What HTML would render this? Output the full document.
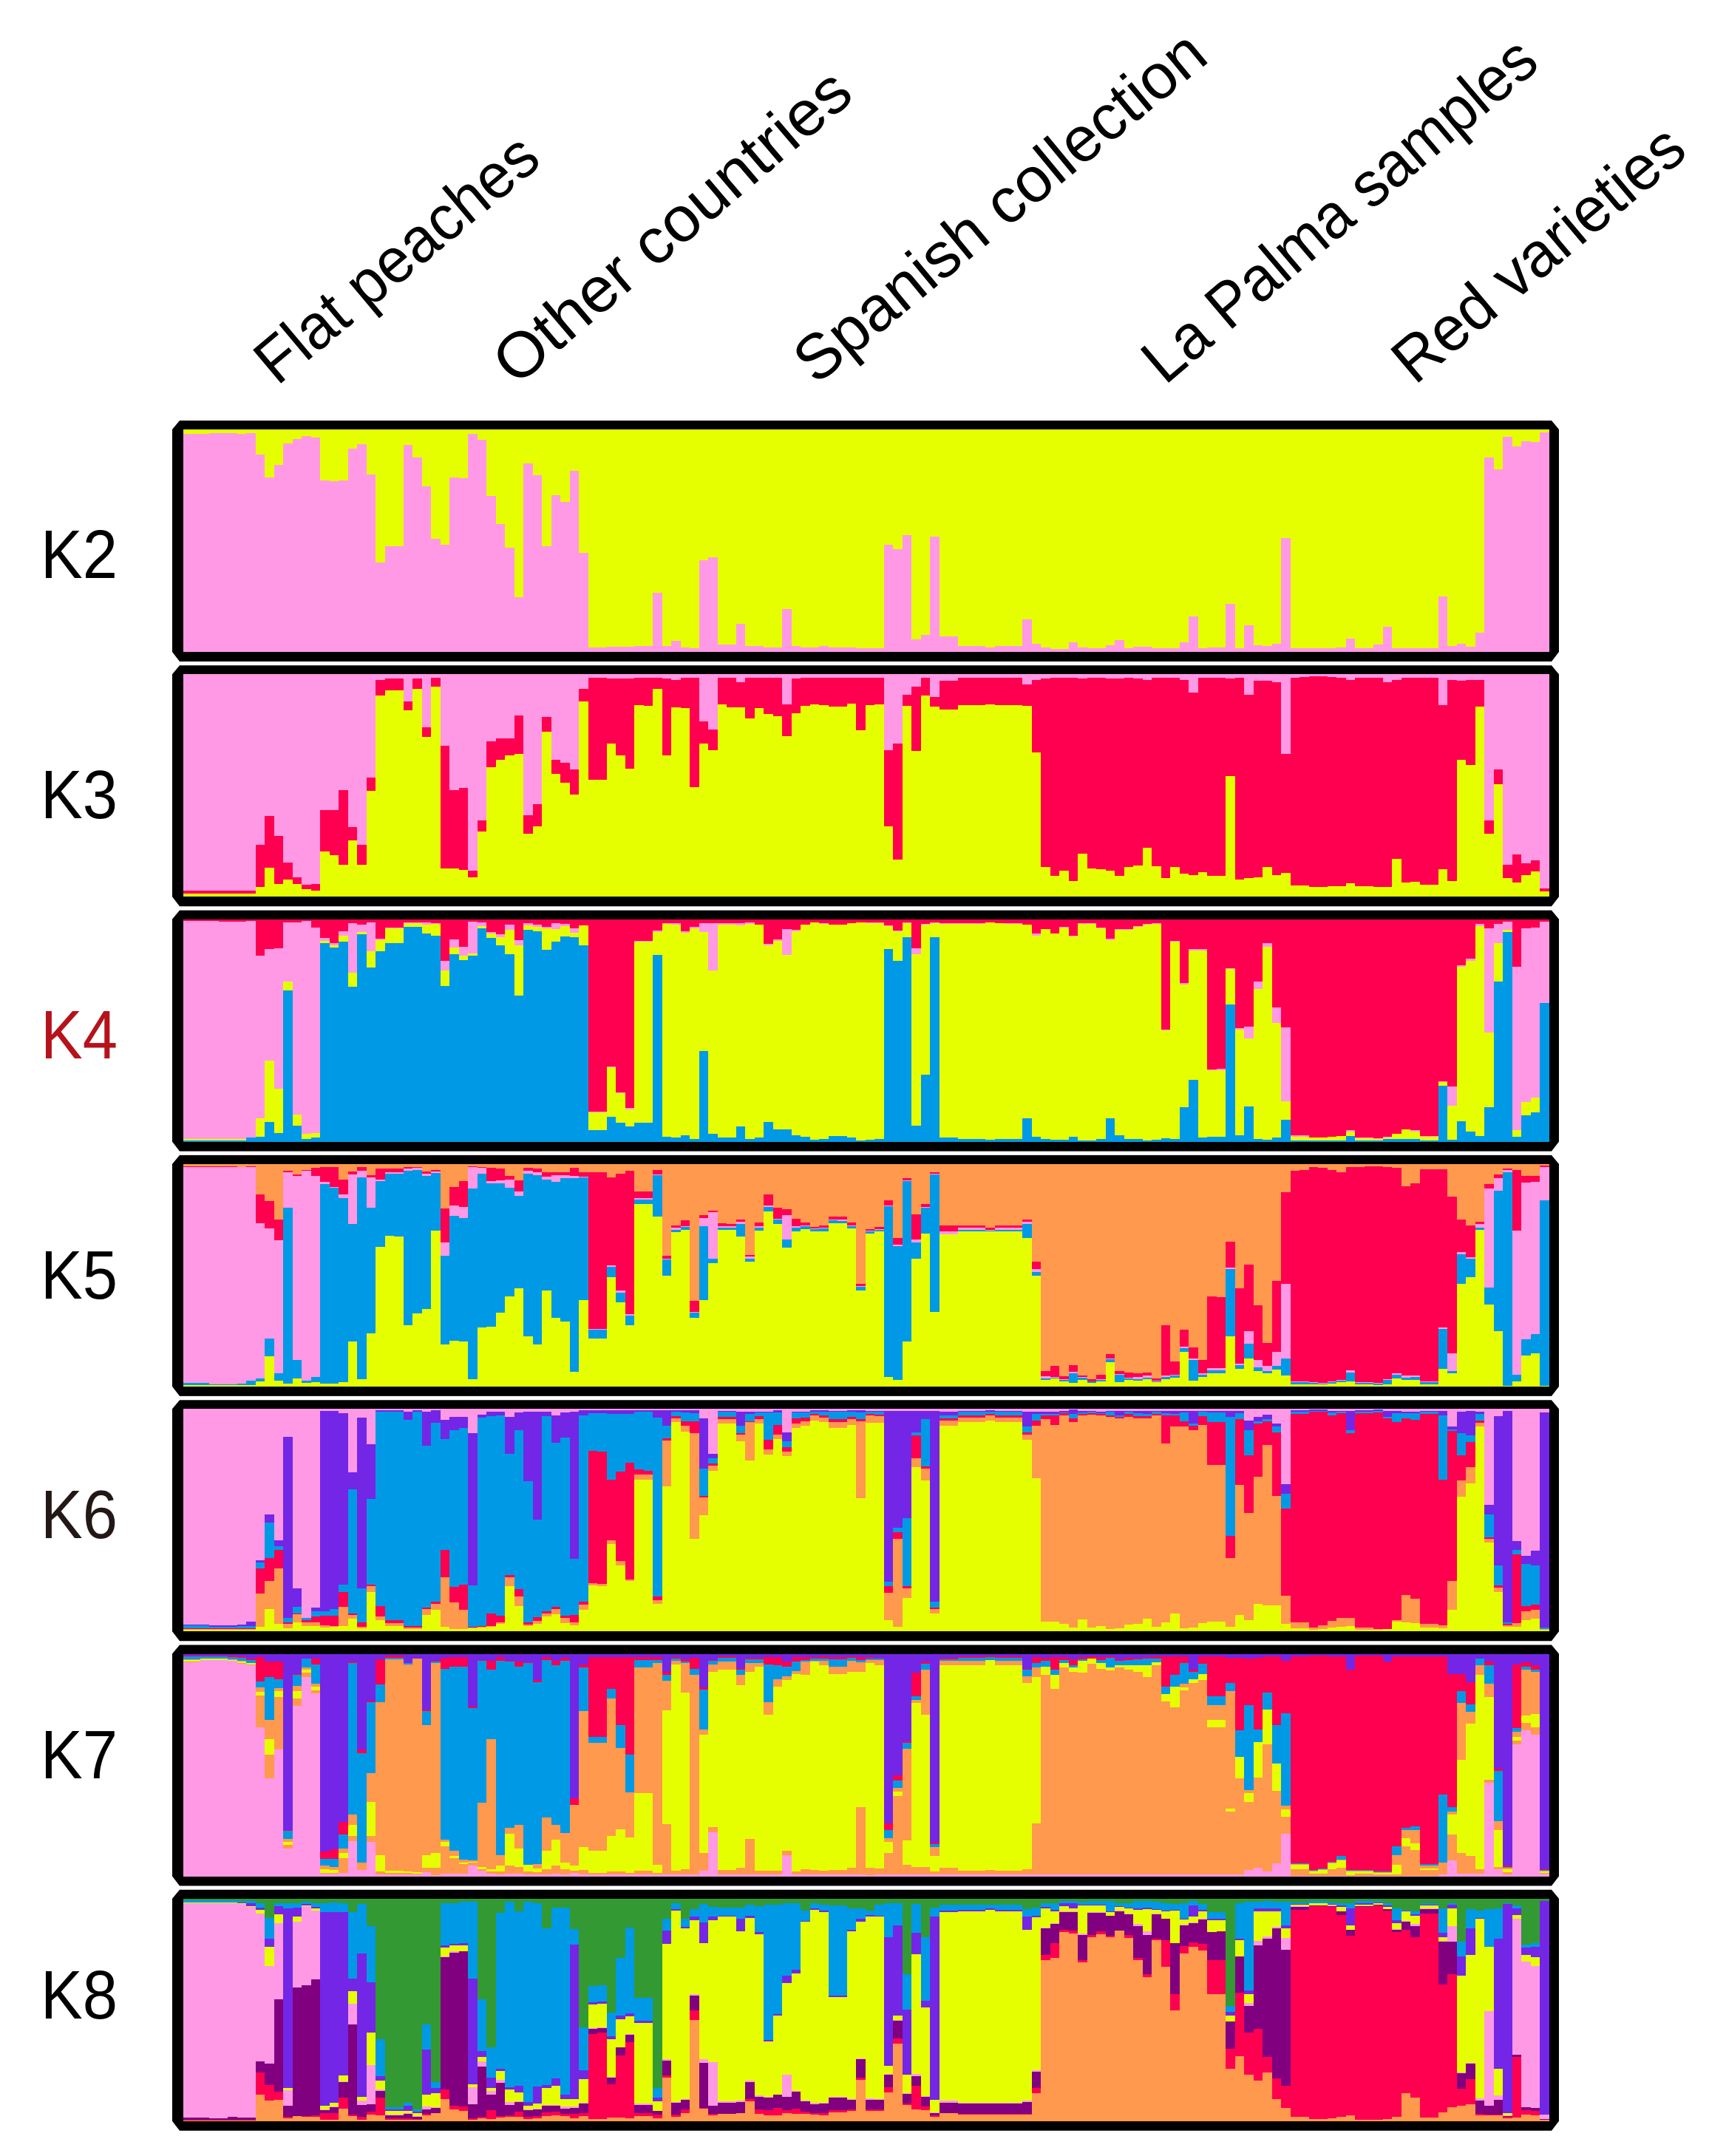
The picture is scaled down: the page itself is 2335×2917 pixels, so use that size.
<!DOCTYPE html>
<html lang="en">
<head>
<meta charset="utf-8">
<title>Structure plot K2 to K8</title>
<style>
html,body{margin:0;padding:0;background:#fff}
svg{display:block}
text{font-family:"Liberation Sans",sans-serif;fill:#000}
</style>
</head>
<body>
<svg id="chart" xmlns="http://www.w3.org/2000/svg" width="2335" height="2917" viewBox="0 0 2335 2917">
<rect width="2335" height="2917" fill="#fff"/>
<defs><clipPath id="plot-clip"><rect x="248" y="0" width="1848" height="2917"/></clipPath></defs>
<g id="frames"></g>
<g id="bars" clip-path="url(#plot-clip)" shape-rendering="crispEdges"></g>
<g font-size="86">
<text transform="translate(375 523) rotate(-40)" textLength="470" lengthAdjust="spacingAndGlyphs">Flat peaches</text>
<text transform="translate(698 524) rotate(-40.4)" textLength="604" lengthAdjust="spacingAndGlyphs">Other countries</text>
<text transform="translate(1104 522) rotate(-39.5)" textLength="692" lengthAdjust="spacingAndGlyphs">Spanish collection</text>
<text transform="translate(1576 522) rotate(-40.3)" textLength="668" lengthAdjust="spacingAndGlyphs">La Palma samples</text>
<text transform="translate(1914 522) rotate(-40.1)" textLength="486" lengthAdjust="spacingAndGlyphs">Red varieties</text>
</g>
<g font-size="93">
<text x="55" y="782" textLength="104" lengthAdjust="spacingAndGlyphs">K2</text>
<text x="55" y="1107" textLength="104" lengthAdjust="spacingAndGlyphs">K3</text>
<text x="55" y="1432" textLength="104" lengthAdjust="spacingAndGlyphs" style="fill:#b5121b">K4</text>
<text x="55" y="1757" textLength="104" lengthAdjust="spacingAndGlyphs">K5</text>
<text x="55" y="2081" textLength="104" lengthAdjust="spacingAndGlyphs" style="fill:#231815">K6</text>
<text x="55" y="2406" textLength="104" lengthAdjust="spacingAndGlyphs">K7</text>
<text x="55" y="2731" textLength="104" lengthAdjust="spacingAndGlyphs">K8</text>
</g>
</svg>
<script>
// Cumulative ancestry (%) at the top of each cluster in the stack, for 148 individuals.
// The last cluster of every panel always fills up to 100.
const k2Pink=[98,98,98,98.3,98.3,98.3,98,98.3,88.7,78.4,84,93.7,95.7,97,96.3,77,76.7,77,91.4,93.4,79.7,40.2,47.5,47.5,93,87.4,74.4,50.8,48.2,78.4,78,98,95.3,70,57.5,46.8,24.6,84.7,79.4,47.5,70.4,67.4,81.4,44.5,2,2,2.3,2.3,2.3,2.7,2.7,26.6,2.7,5,2,1.7,41.2,42.5,3.3,3.3,12.6,2.7,2.7,2,2,19.3,2.7,2,2,2.7,2,2,2,1.7,
1.7,1.7,48.2,46.2,52.5,5.6,7.6,51.8,7,7,2.7,2.7,2.7,2,2.7,2.7,2.7,14.6,3.7,2,1.3,1.3,4.3,2,1.7,1.7,3,5.3,1.7,2.3,2.3,1.7,1.7,1.7,4.3,16,1.7,2,2,21.6,1.7,12,3,2.7,3.7,51.2,1.7,1.7,1.7,1.7,1.7,2,6,1.7,1.7,3.3,11.3,1.7,1.7,1.7,1.7,1.7,24.9,2.7,3.7,2.3,8.6,87.4,82,96.7,92.4,94.7,94.4,98.7];

const k3Yellow=[1.5,1.5,1.5,1.5,1.5,1.5,1.5,1.5,4.4,12.9,5.7,7.7,5.7,3.4,2.7,20.3,18.6,14.3,25.2,14.3,47.5,90.6,92.9,92.9,83.7,93.6,71.8,94.3,12.6,12.6,11.9,8.7,29.5,58.2,61.7,63.7,64.1,28.2,31.5,74.3,55.2,51.2,45.8,87.9,52.5,52.5,69,63.7,57.6,86,85.7,93.3,63.7,85,84.7,49.2,69,65.8,86.4,85,85,80.3,84.7,82,81,72.3,82.4,85.7,86.4,86,85.4,85.4,86.7,74.8,
86,86.4,31.5,16.6,85.7,65.4,90.6,85.4,84,84,86,86,86,86.4,86,86,86,85.7,64.8,13.3,9.4,11.6,7,19.3,12.6,12.3,11.6,9.4,13.3,13.9,22,13.6,8.4,13.3,10.4,9.9,10.9,9.4,9.4,54.2,7.7,8.4,8.7,13.3,9.6,10.6,5,5,4.4,4.4,4.7,4.7,6,4.7,4.7,4.4,4.4,17,6.4,6.7,5.4,5.4,12.3,7,61.4,59.1,85.4,28.2,50.5,8.4,6.4,9.9,11.3,2.4];
const k3Red=[2.6,2.6,2.6,2.6,2.6,2.6,2.6,2.6,23.4,36.2,27.2,15.3,8.7,5.4,5.7,39.1,38.9,47.8,31.2,23.3,53.5,97.6,98,98,87.9,98,76.3,98.6,68,47.8,48.8,11.6,34.2,69.8,71.3,71.3,81.4,36.6,41.6,80.7,61.4,60.1,57.2,93.6,98.3,98.3,98,98,98,98.6,98.6,98.6,98,97.6,98.6,98.3,78.7,75.3,98.3,98.3,96.3,98.3,98.3,98.3,98.3,86.4,98,98.6,98.6,98.3,98.6,98.6,98.6,98.6,
98.6,98.6,65.8,68.8,90.9,94.6,98.6,89.9,97,97,98.3,98.3,98.3,98.6,98.3,98.3,98.3,95.6,97.3,98,98.6,98.6,98.6,98,98.6,98.6,98,98,98.6,98,97.3,98.6,98.6,98.6,97.6,91.9,98.6,98.3,98.3,98,98.6,90.9,97,97,96.3,64.1,98.6,98.9,99,99,98.9,98.6,97.3,98.6,98.6,98.6,96.6,97.6,98.6,98.6,98.6,98.6,86,97.3,97,97.6,97.3,34.2,57.4,14.3,19,14.9,16.3,3.7];

const k4Blue=[.5,.5,.5,.5,.5,.5,.5,1.7,2.3,8.9,3.7,68,7.2,1.3,2,89.3,87.2,90,69.5,93.3,78.4,85.7,89.3,89.3,96.7,96.7,93.6,92.6,70,84.4,81.7,83.7,96,91.6,88.4,84.4,65.8,95.3,94.6,86.4,90,92.3,92,88.4,5.3,5.3,11.2,8.5,7,8.5,8.5,84,2.3,1.7,3,1.3,40.8,3.6,2,2,7,1.3,2,8.9,5.5,5.5,3,2.3,1,1.3,2.6,2.6,2,.6,
1,1.3,86.6,81.4,92,7.2,30,92,2,2,1.3,1.3,1.3,1,1.3,1.3,1.3,10.5,2.3,1.3,1,1,2.3,.6,.6,1.3,10.5,3,1.3,1.3,.6,1,1.6,1.3,15.6,27.8,2,2.3,2.3,61.8,3,15.9,1.3,1,2,10,.6,.6,.6,.6,.6,.6,2.6,.6,.6,.6,1.3,1.3,1.3,1.3,.6,.6,25.1,1,9.2,4.5,2.6,15.6,72,94.3,2.3,11.9,13.2,62.2];
const k4Yellow=[1.3,1.3,1.3,1.3,1.3,1.3,1.3,2,10.5,36.4,23.9,71.9,12.2,3.4,4,90.3,88.2,92.6,76.1,94.3,85.7,90.6,95.9,95.9,98.3,98.3,97.7,98,76.8,87.2,83.7,84.7,97,93.6,92,95.3,88.4,97.3,96.7,96,95.7,97,94,97.3,13,13,33.4,21.7,14.5,89.9,89.9,94.3,98,97.6,93.9,96,94.3,77,97.7,97.7,97.3,98,97.6,88.2,90.3,84,94.6,97.7,98.6,98,97.6,97.6,98.3,98.7,
98.3,98.3,97,94.6,98.3,84.4,97.6,98.3,98,98,98,98,98,98.7,98.3,98,98,97.7,92.6,95.6,93.6,96.3,92.3,98,98,96,90.6,95.3,95.3,96.6,97.6,98,49.9,89.9,70.7,86,86,32,32,77.6,50.3,46.3,68.8,87.6,53.4,18.2,2.3,2.3,2,2,2.3,2.6,4.5,1.6,1.6,1.3,2,3.6,5.5,4.5,2.3,2.3,26.8,16.2,78.7,81.4,96.9,48.9,89.3,95.3,5.3,17.9,19.9,62.2];
const k4Pink=[99.3,99.3,99.3,99.3,99,99,99,99.3,83.7,86.6,87,98.7,98.7,99.3,96.3,91.6,89.2,94.6,98.3,97.7,98.7,91.3,96.3,96.3,98.7,98.7,98.7,98.3,81.1,91,87.6,99,98.7,94.3,93.3,97.7,90.6,98.3,97.7,96.7,98.3,98,96,97.3,13.5,13.5,33.8,22.2,15,90.3,90.3,95,98.3,98.3,94.6,96.7,98.3,98.3,98.3,98.3,98.3,98.7,97.7,89,91,95.6,95.3,97.7,98.7,98.3,97.6,97.6,98.3,98.7,
98.7,98.7,97.3,95,98.7,87,98,98.7,98.3,98.3,98.3,98.3,98.3,98.7,98.3,98.3,98.3,97.7,93.6,95.6,93.6,96.6,92.6,98.3,98.3,96.3,91.3,95.7,95.6,96.9,97.9,98.3,50.4,90.3,71.4,86.6,86.6,32.5,32.8,78,51,51.7,72,89.3,60.4,51.4,3,3,2,2,2.3,2.6,5.3,2,2,1.6,2.3,3.6,5.5,5.3,2.6,2.6,27.1,24.9,79.4,82.1,98,96,97.9,99,78.7,96,96.3,99];

const k5Yellow=[.5,.5,.5,.5,.5,.5,.5,.5,2.3,13.7,2.7,1.4,3.7,1.7,2,1.4,1.4,2,20.3,3.3,23.9,62.8,67.9,67.4,27.7,33,34.9,70.2,19,20.6,20.3,3.3,26.7,27,33.3,40.6,44.2,22.6,19,43.2,31,29.3,6.6,38.9,21.6,21.6,49.3,37.9,27.7,82,82,76.5,49.9,69.5,70.5,31,38.9,55.5,70.5,70.5,67.4,56.2,70.2,78.8,73.2,62.5,69.9,70.7,69.9,69.9,73.5,73.5,71.2,43.2,
68.9,69.9,4.3,3,20.3,57.5,68.9,33.6,68.4,68.4,69.9,69.9,69.9,69.9,69.9,69.9,69.9,66.9,49.9,3,3.6,2.2,1.6,3,1.6,2.3,11,1.9,3,2.6,3.3,1.9,3.3,4,15.7,2.7,4.3,6,6,22.6,8,12.7,7,5.8,7.6,5,1,1,.9,.9,1.2,1.9,2.2,.9,.9,.6,.9,3.7,3,3,1,1,8,6,46,49.3,70.5,36.9,24.9,.4,2.3,14,15,.4];
const k5Blue=[1.5,1.5,1.5,1,1,1,1.4,2.7,3.7,21.6,5.8,80.4,12,2.7,4.3,91,89.2,84.7,73.2,94,80.4,92.4,95.7,95.7,97.1,97.4,94.8,96.1,58.8,76.8,75.8,89,95.7,91.4,91.4,89.5,85.7,95.7,95.1,93,92,93.8,93.8,94,25.5,25.5,53.7,42,32,84.1,84.1,95.1,57,70.5,71.8,33.3,72.2,57.5,71.5,71.5,73.2,57.5,71.5,80.8,75,66.1,71.5,72.2,70.7,71.2,74.8,74.5,72.2,44.7,
69.9,70.5,81,63.1,92.4,64.8,80.4,95.4,68.4,68.4,70.5,70.5,70.5,70.2,70.5,70.5,70.5,73.2,51.4,3.6,4,3,6,4,2.2,2.9,12.4,5.3,3.6,3.3,4,2.3,4.3,5,17.4,12,5.3,7.3,7.3,52.7,9.7,19.3,8.6,7,9.4,12.7,2,1.9,1.6,1.4,1.9,2.6,6.3,1.6,1.6,1.2,3,5.3,4,4.3,1.9,1.9,25.9,7,59.5,57.5,71.5,44.5,88,96.4,5.3,21.3,23.6,83.7];
const k5Pink=[98.8,98.8,98.8,98.8,98.8,98.8,98.6,98.8,73.5,70.9,65.6,96.3,94.8,97.1,94.8,92,89.8,86.5,95.4,97.1,94,93,96.4,96.4,98,98.3,95.7,96.7,64.8,81.4,80.8,98.7,98.4,92.4,92.8,93,87.8,97.1,96.4,94.4,95,95,94.8,94.4,25.8,25.8,54.6,43,32.6,84.7,84.7,95.4,57.5,71.5,72,33.6,75.8,78.4,72.2,72.2,74.2,58.5,71.9,81.4,75.5,77.1,72.2,72.5,70.9,71.5,75,75,72.5,45,
70.2,70.8,81.2,63.7,92.8,66.1,80.8,95.7,69.7,69.7,71.5,71.5,71.5,70.5,71.5,71.5,71.5,74.2,52.7,4.6,4.3,3.3,6.6,4.3,2.4,3.3,12.7,5.6,4,4.3,5,2.6,5,5.3,18,12.7,6,8.4,8.4,53.3,10.4,24.9,12,9.4,15.7,46.3,2.3,2.2,1.9,1.6,2.2,3,7.3,1.9,1.9,1.6,3.3,6,5,5,2.3,2.3,26.7,15,60.5,58.2,73.2,89,93.8,97.4,70.2,91.8,92,98.7];
const k5Red=[99,99,99,99,99,99,98.7,99,86.5,83.4,75,97.1,95.2,97.4,98.3,98.7,98.7,93,96.7,98.7,95,98,98,98,98.7,98.7,96.7,97.4,80.1,89.8,92.4,99,98.7,98.4,98,94.8,92.8,98.4,98,96.4,96.4,96.4,98.4,96.4,96.4,96.4,94,95.7,97.1,87.8,87.8,97.4,58.8,72.5,74.8,38.6,77.1,79.1,73.5,73.2,75,59.2,73.8,86.5,80.4,79.8,75.5,73.8,71.8,72.5,76.5,76.5,73.8,46,
70.7,71.8,83.7,66.9,93.8,77.5,82.1,96.4,72.5,72.5,72.5,72.5,72.5,71.5,72.5,72.5,72.5,75,56.2,7.1,9.4,4.6,9.7,5,3.3,5.3,14.7,7.1,6.3,6,6.3,3.7,27.7,11.4,25.4,17.7,12,40.6,40.2,65.1,44.2,54.9,36.6,19.6,47.6,87.5,97.1,97.4,98.7,98.3,97.4,96.4,98.7,98.7,99,99,98.7,98.4,90,91.4,97.7,97.7,97.7,85.2,75,72.5,74.2,91,95.4,98,97.4,94.8,94.8,99.4];

const k6Yellow=[.6,.6,.6,.6,.6,.6,.6,.6,2,9.9,3.3,1.3,3.9,2.3,2.3,1.7,2,2.4,5.6,1.3,17.6,4.9,2.3,2.3,1,1,7.3,9.7,2,1,1,1.4,1.6,2,3.3,20.2,11.5,2.3,3.3,6.6,7.6,3.6,2.6,9.7,20.6,20.3,39.2,29.8,22.5,68.2,68.2,12.4,65.1,94,89.9,41.6,52.2,72.3,93.4,93.4,85.4,76.7,93.5,79.4,86.5,78.7,91.4,92.5,94.7,94,91.4,91.4,92.7,59.8,
93.7,93.7,4.9,2,15,73.9,68,7.9,92.4,92.4,94,94,94,94.7,94,94,94,86,68.7,4.3,4.3,3.3,1.6,5.3,1.6,2.4,1,1.3,2.9,3.3,5.6,2,3.9,8.2,1.3,1.6,3.6,4.3,4.3,2,7.3,4.9,12.5,11.7,11.7,3.3,1.3,1.3,.6,1,1.7,2,2.3,.6,.6,.6,.9,4.3,4,3.6,1.6,1.6,1.3,9.7,60.4,66.4,92,40,17.7,2,2,4.9,5.6,.6];
const k6Orange=[1,1,1,.9,.9,.9,1,1,17.1,22.6,28.2,3.3,7.6,4,3.9,2.6,2.3,11,7.5,2,20.2,6.6,3.6,3.6,1.7,1.7,9.9,12.5,24.2,13,9.7,1.6,1.9,2.3,4.2,24.2,15.7,3,4.6,8.2,9.9,6,3.9,12,21.6,21.2,40.8,31.6,23.3,70.5,70.5,14,85.7,95.8,92.5,89,60.2,74.4,95.4,95.4,88.3,94,95.4,81.7,88.6,80.7,93.4,94.4,97,96.2,94,94,95.4,94.4,
97,96.7,17.3,41.5,19.3,77.7,73,9.9,94.7,94.7,96.2,96.2,96.2,97,96.2,96.2,96.2,88.6,92.4,95.4,92.9,97,94,97,97.4,97,96.4,95.7,96.4,95.7,95.8,97,84.3,92,92,90.3,92.8,74.8,74.8,32.9,65.7,53.2,69.5,83.7,60.8,15.9,3.9,3.9,1.6,2.6,4.6,5.9,5.9,1.6,1.6,.9,.9,5.2,16.4,14.7,3.3,3.3,2.6,22.6,67.7,73.8,93.7,41.5,19.6,2.7,3.6,8.9,9.7,.9];
const k6Red=[1.4,1.4,1.4,1.3,1.3,1.3,1.4,1.4,28.4,32.9,36.5,3.9,8,5.2,6.6,6.9,7.2,17.6,8,3.9,20.9,11.5,4.9,4.9,2.4,2.4,10.7,13.3,36.5,20,20.9,2,2.3,8.2,7.2,25.4,18.9,3.9,6.3,9.2,11,6.9,7.3,13.3,81,80.7,68.2,71.8,75.8,72.8,72.3,15.7,86.7,96.8,94.5,94.5,61,75.4,96.4,96.4,89,94.5,96.7,86,92.9,82.7,95.7,96,97.7,97,95.4,95.4,96.3,95.4,
97.7,97.3,20.3,44.7,20.3,88,74,10.7,95.7,95.7,97,97,97,97.7,97,97,97,89.3,94.8,97,97,98,95.8,97.7,98,97.7,97,96.4,97.7,96.8,96.8,97.8,97,97,94.5,92.4,96.8,94,94,42.8,95.4,79,93.4,94.5,89.6,55.2,97.8,97.8,98.7,98.7,97,98,89.2,98,98,98.3,95.7,94,95.7,95,97.7,97.7,68.2,90,79,85,94.7,42.4,20.7,3.5,34.6,11.5,12,1.2];
const k6Blue=[2.6,2.6,2.6,2.2,2.2,2.2,2.5,2.3,30.8,48.8,38.2,5.9,11,6.2,8.9,9,10,20.9,64,19.3,59.5,98.6,98.6,98.6,95,98.8,83.4,93.7,86.3,90.5,91.5,20.6,96,96.7,97,79.7,90.5,67.4,50.1,96.7,84.7,87,32.6,97,98,98,97.7,97.7,97.7,98.6,98.6,96,92.4,98.6,98.3,98,73,77.7,98.8,98.8,92.5,97.8,98.3,98.3,98.3,85.3,98.3,98.3,98.8,98.8,98.7,98.7,98.8,98.3,
98.8,98.8,22.2,46.5,50.9,89.6,95.4,13.3,97,97,98.8,98.8,98.8,98.8,98.6,98.6,98.6,92,97.7,97.8,97.8,98.4,97.8,98.3,98.6,98.2,98.6,97,98.6,98,97.8,98.8,98,97.8,98.3,93.4,98.7,98.3,98.3,96.3,98,90.5,94.5,95.4,92,61.8,98.8,98.8,99.1,99.1,98.3,98.8,90.5,98.8,98.8,99.1,96.3,98,98,98,98.8,98.8,97,90.6,89,88,97.7,52.4,29.8,3.9,36.5,30.3,29.8,1.6];
const k6Violet=[3,3,3,2.6,2.6,2.6,3.2,4.3,31.8,52.4,40.8,87.3,19.3,6.2,10.7,99,99,98,71.5,96,84,99.3,99.3,99.3,98.8,99.3,98.8,99.3,95,96.5,96.3,89,97.3,98.8,98.6,96.3,98.3,98.6,98.8,98.8,97,98.3,98.8,99.3,99.3,99.3,99.3,99.3,99.3,99.3,99.3,99.3,99.3,99.3,99.3,99.3,95.7,79.7,99,99,98.8,98.8,98.8,98.8,99.3,89.3,98.8,98.8,99.3,99.3,99.2,99.2,99.3,99.3,
99.2,99.2,99.2,99.2,99.2,99.2,99.2,99.2,98.8,98.8,99.2,99.2,99.2,99.3,99.1,99.1,99.1,98.8,98.8,98.8,98.8,99.2,99.7,99.2,99.2,98.8,99,99.2,99.2,99.2,99.2,99.2,99.2,99.2,99.2,99.2,99.2,99.2,99.2,99.2,99.2,94.7,96.3,97.3,93.4,66.1,99.3,99.3,99.8,99.8,99,99.2,99.2,99.5,99.5,99.8,99.2,99.2,98.8,98.8,99.2,99.2,99.2,92,98.8,99,98.8,56.8,96.8,99,40.5,34.1,36.2,98.3];

const k7Pink=[96.3,96.3,97.1,97.1,97.1,96.8,95.5,95,67,43.9,57.1,12.4,76.7,89.4,82.3,1.2,1.2,1.4,15.7,2.7,15.4,.7,.7,.7,.7,.7,1.7,.4,1,1,1,4.7,2.4,1,.7,1,1,.7,.7,.7,1,.9,1.4,.7,.7,.7,.7,.7,.7,.7,.7,.7,.7,.7,.7,.7,2.4,19.7,.7,.7,.7,.7,.7,.7,.7,9.6,.7,.7,.7,.7,.7,.7,.7,.7,
.4,.7,.7,.7,.7,.7,.7,.7,.7,.7,.7,.7,.7,.7,.7,.7,.7,.7,.7,.7,.7,.7,.7,.7,.7,.7,.7,.7,.7,.7,.7,.7,.7,.7,.7,.7,.7,.7,.7,.7,.7,2.7,3.7,2.3,5.8,19,.1,.1,.1,.1,.1,.1,.1,.1,.1,.1,.1,.1,.1,.1,.1,.1,.7,7,1,1,1,41.9,3,.7,59.4,65.5,63.7,1];
const k7OrangeLow=[96.5,96.5,97.2,97.2,97.2,97,95.8,95.2,81.3,54.5,80.4,14.1,80,91.4,83.6,1.6,1.4,8.3,18.1,4,18.1,2.2,1.4,1.4,1.4,1.2,3.7,3.7,13.4,8.3,5.6,6.2,3,2,2,4.7,4,2.3,1.7,3,4.7,3,2.6,2.7,1.4,1.4,2,2,1.4,2.4,2.4,1.4,23.3,2.4,3,49.2,10.4,22,2.7,2.7,3.7,16.7,2.4,2.4,2.4,11.4,2,3,2.7,2.4,2.7,2.7,3.7,31,
3.7,3.5,10.6,36.1,5.2,4.3,4,2,3.7,3.7,2.4,2.4,2.4,2.7,2.4,2.4,2.4,3,23.7,90.4,84.3,93.7,92,91.4,95.4,93.2,92.4,94,92.7,91.7,89.6,95,78.7,76,83.7,87,88.3,67,67,29,44,33.5,44.5,59.4,38.3,26.8,3.3,3.3,1.2,1.2,3,3.7,.4,1.2,1.2,.9,.9,.7,13.4,11.7,2.7,2.7,6,18.7,10.4,9,3,43.3,4,1.9,60.9,68.8,67,1.6];
const k7Yellow=[97.1,97.1,97.7,97.7,97.7,97.3,96.4,95.7,83,61.7,83.3,15.4,83.3,92.9,85.3,3,2.7,10.4,23,4.3,33.5,9.6,2.4,2.4,2.2,1.9,9.6,10.4,15.4,9,6.3,6.6,4,3,4.7,19,12.4,5.3,3.5,11.4,16.4,6.3,4.7,13,11.4,11.4,18,21,17.3,37.3,37.3,5,74.7,95.3,82.7,49.2,63.7,91.7,92.9,92.9,86,91.7,94.2,72.7,85.3,88.3,91,90.6,96.5,95,91,91,91.7,92,
96,95,15.4,38,16,78,72.7,9,95,95,95,95,95,97.3,95,95,95,87,89.4,94.2,90.4,96,93.7,97,97.7,96,93.7,95,95,94.7,95,96.3,82,85.3,85,88.6,90.8,70.3,70.3,30.4,53.7,37.3,60.4,75,50.5,30,5.2,5.2,2.2,2.7,5.8,7,2.2,2.2,2.2,1.5,1.5,5,17,14.7,3.6,3.6,6,27.9,52.2,68.6,90.4,80.4,20.6,3,62.6,72.4,72.9,2.2];
const k7OrangeHigh=[97.4,97.4,98,98,98,97.4,96.8,95.8,85,70.4,84.6,16.7,85.6,93.7,86.6,4.7,4,12.4,27.9,6.3,46.2,78.4,97.6,97.6,95.1,98,67.8,95.7,16.4,11.4,7.6,7,33,61.6,9.6,21.6,23,5.3,5.6,26.3,23,19.3,32.2,74.4,59.9,59.9,80,57.8,37.8,93.7,93.7,96,88,97,95.7,90.6,66,95.3,96.5,96.5,90.4,95.7,95.7,78.4,88.6,90,92.2,96.5,97,97,94.2,94.2,97,96.3,
97.3,97.3,17,39.6,57.3,79.3,92.8,13,96.8,96.8,97,97,97,97.3,97,97,97,90,94,94.2,90.4,96,93.7,97,97.7,96,93.7,95,95,94.7,95,96.3,82,85.3,86.6,88.6,90.8,77,77,83.3,53.7,38.8,60.4,75,50.5,31.8,5.4,5.4,2.4,3,6,7.4,2.4,2.4,2.4,1.7,1.7,9.6,20.6,20.6,4.7,4.7,6,29,78,74,95,86.6,24.9,3.9,64.9,93,91.7,2.4];
const k7Blue=[98.7,98.7,98.8,98.8,98.8,98.6,98.3,97.3,87.6,89.4,88.6,20.3,90.4,98,95.3,7.8,7.8,18.7,96,55.4,78.4,86.3,98.3,98.3,96,98,74.1,96.5,93.2,94.2,94.2,75.7,96.8,92.8,96.8,96.5,94.2,95.7,87.3,97.3,95,97,32.2,94,62.6,62.6,84.3,67.8,54.8,97.3,97.3,97.3,90.4,97.7,96.5,93.2,84,96.8,98.3,98.3,92.9,97.6,97.6,95.3,95,94.2,96.5,97.3,98,98,97.6,97.6,98.3,97.3,
97.9,97.9,20.6,42.9,60.1,81,95.5,14.5,97.4,97.4,98.3,98.3,98.3,98.6,98.3,98.3,98.3,92.7,95.7,97,92.7,97.3,95,97.4,97.9,97.3,98.3,97,97.3,97.4,97.9,98,85.3,90.6,95.7,91.7,95.5,81,81,87,65.5,77,65.8,82.7,67.8,73.4,5.8,5.8,2.7,3.5,6.6,9,2.9,2.9,2.9,2.3,2.3,13.4,21.6,22.3,5.6,5.6,36.8,31.2,83.3,77.3,97.8,95,47.2,4.3,66.5,94.2,93,2.9];
const k7Red=[99.1,99.1,99.1,99.1,99.1,99.1,98.8,97.8,98.6,96.5,96.5,20.9,90.9,98,98,11.1,12.2,24.3,96.4,57.1,79,97.4,99.1,99.1,96,98,74.8,97,98.3,98.6,98.6,76.3,97.3,96.8,98.6,96.8,96.5,96.1,88.2,98.6,96.7,98.1,35.1,95.3,98.6,98.6,98.6,98.6,98.6,98.6,98.6,98.6,91.7,98.6,97.4,98.3,85,97.3,98.8,98.8,93.6,98.3,98.3,98.6,98.6,96.5,98.6,98.6,98.6,98.8,98.6,98.6,98.8,98.6,
98.6,98.3,23.6,45.3,60.7,91.4,96.5,15,98.3,98.3,98.8,98.8,98.8,99.1,98.8,98.8,98.8,93.2,98.6,98.3,98.6,98.6,97.4,98.6,98.8,98.6,98.8,97.4,98.3,98.3,98.6,98.8,98.8,98.8,98.8,92.7,98.8,98.8,98.8,98.3,98.3,97.7,98.3,98.8,98.8,96.8,98.8,98.8,99.1,99.1,98.8,98.8,92.7,99.1,99.1,99.1,96.5,98.8,98.8,98.8,98.8,98.8,98.8,90.8,90.8,87.3,97.8,96.5,48.5,4.7,95.3,96.3,95,3.3];

const k8Orange=[.3,.3,.3,.2,.2,.2,.3,.3,12,9.4,9.7,1.3,2.4,2,2,.6,.6,5.6,2.2,.7,3,2.7,.6,.6,.6,.6,2.7,3.5,9.9,5.3,4.5,.6,1.3,.9,1.6,2,2,1,1.3,2.3,2.7,2.2,1.3,2.3,1,1,1.7,1.7,1.3,2.3,2.3,1.4,19.6,2,3.5,45.5,5.5,2.7,3.2,3.2,3.5,9,3.2,2.6,2.7,3.6,3.3,3.3,3,2.6,3.9,3.9,4.5,18.6,
4.6,4.5,13,34.9,7.2,5.2,4.9,1.9,3.5,3.5,3,3,3,3,3,3,3,3,12.7,72.5,73.5,85,84.3,71.2,82.7,84,82.7,85.6,82.4,72.2,64.8,81.3,69.5,49.9,75.5,78.4,76.7,57.2,57.2,23.6,29.3,20.7,18.2,21.9,10,6,2,2,.9,.9,1.2,2,2.6,.6,.6,.6,.9,1.9,12.4,10.7,1.7,1.7,3.9,6.3,6.9,7.5,2.6,2.6,2.6,1.2,1.7,3,2.6,.6];
const k8Red=[.6,.6,.6,.6,.6,.6,.6,.6,21.8,16.3,13.3,2,2.4,2.2,2.7,3.7,3.7,10.4,2.9,1.9,4.2,10.4,1.2,1.2,1.3,1,3.2,3.7,14.1,7,6.6,1.3,2,4.8,2.4,2.7,4.2,1.9,2.3,3.9,4.2,3.2,3.2,3.5,39.3,39.8,16.7,29.5,35.4,3.6,3.6,2.9,20.5,2.9,5.2,49.7,5.9,3.2,3.3,3.3,3.7,9.8,5.2,4.9,6,4.9,5.5,4.2,3.5,3.5,5,5,5.2,19.5,
5.2,5.2,15.3,37.2,8,16,6.6,2.6,3.7,3.7,3.4,3.4,3.4,3.4,3.4,3.4,3.4,3.4,15,74.6,80,86,85.6,72.2,83.7,85.4,83.3,85.6,83.7,73.5,65.9,82.1,81.4,57.2,78.7,80.2,79.8,72.5,72.5,32.6,57.8,39.8,41.5,28.7,19.3,16,94.8,94.8,96.5,96.5,96.2,92.5,83.3,96.3,96.3,96.8,94.7,84.9,85.9,82.7,93.4,93.4,61.4,65.9,14.7,18.9,3.3,3,3,1.9,28.7,5,4.5,.7];
const k8Dark=[1.7,1.7,1.7,1.3,1.3,1.9,1.5,1.5,27,25.8,54.9,7,60.2,61.2,63.8,4.9,6.3,17.6,43.5,7.3,7.6,13.7,2.6,2.6,3.2,1.9,5.3,6,73.6,75.8,76.2,7.6,24.4,11.8,17.3,7.3,8.5,4.9,5.2,7,7,5.6,5.8,8,41.5,41.9,19.6,33,38.8,7.3,7.3,4.5,27.2,8.2,9.5,56.5,26.2,7,8.4,8.4,8.6,17.4,11,10.4,11.8,11,13.1,8.9,7.6,7.8,10.4,10.4,9.5,27.8,
9.7,9.5,21,45.2,12.1,20.3,11,3.7,8.2,8.2,7.8,7.8,7.8,7.8,7.8,7.8,7.8,8.5,22.2,86.6,88.8,94,94,83.7,93.7,93.7,92.2,94.2,93,87.6,83.7,93,90.8,80,87.9,89,90.5,85,85.2,44.7,73.9,51.6,79,82.1,86.5,77,96.3,96.3,96.9,96.9,96.7,94.2,85.9,96.6,96.6,97.2,95.4,85.9,89.8,87.5,95.4,95.4,80.8,80.7,21.6,25.8,9.4,7,9.5,2.4,30,6.3,6,.9];
const k8Pink=[97.8,97.8,97.8,98,98,98,97.7,96.4,93.2,69.6,88.9,13.8,89.8,96.7,94.5,5.2,6.6,18,52.6,9.4,25.2,14.1,2.9,2.9,3.6,2.3,6.5,6.3,73.9,76.2,76.5,15.3,27,13.4,18.4,8.5,8.8,5.2,5.5,7.3,7.3,6.6,6.5,8.4,41.8,42.2,19.9,33.3,39.1,7.8,7.8,4.6,27.7,8.6,9.8,57,27.8,26.4,8.8,8.8,9.2,18.2,11.7,10.8,12,21,13.5,9.2,8.4,8.4,10.8,10.8,9.8,28.1,
10.2,9.8,21.3,45.5,12.4,21.2,11.3,3.8,9.2,9.2,8.4,8.4,8.4,8.4,8.4,8.4,8.4,9.1,22.8,87,89.1,94.3,94.3,84.4,94,94,92.2,94.5,93.3,88.8,85.2,93.3,90.9,80.1,88.3,89.4,90.8,85.1,85.4,44.9,74,53,81,83,87.3,82.4,96.6,96.6,96.9,96.9,96.8,94.2,85.9,96.7,96.7,97.3,95.4,86.2,90,88.5,95.7,95.7,81.1,87.5,22,26.1,10.2,49.4,11.4,2.5,90.8,71.6,69.7,2.9];
const k8Yellow=[98.2,98.2,98.2,98.2,98.2,98.2,98,96.6,95,78.4,92.8,15,91.8,97.1,95.7,7,8.4,20.6,58.5,11,39.9,18.3,4.6,4.6,4.6,3.6,12,12.7,78.1,79,79,16.7,28.7,15,22.5,14.3,13,6.8,7.8,15,16,9.9,9.8,19,52.3,52.7,36.9,45.8,47.1,44.2,44.2,8.9,79.8,94.7,86.6,90.3,80.1,90.3,92,92,85.2,91.4,84.1,35.7,47.3,62.1,66.4,89.5,95,93.8,55.6,55.6,85.2,89.8,
91.9,91.9,25,47.6,21,75,51.2,9.7,94,94,94.4,94.4,94.4,95,94.4,94.4,94.4,86,91.5,95.7,94.4,96.7,95.7,97,97,97,94,96.4,95.5,95,95.2,94.8,94.2,94.5,90.6,91.9,94.4,90.3,90.3,47.6,81.4,57.2,94.4,94.4,94.4,86.5,97.4,97.4,97.8,97.8,97.4,96.4,87.9,97.4,97.4,97.8,96.3,89,94.2,92.2,97,97,82.7,95.7,65.3,74.6,90.8,78.2,23.6,3.7,92.5,74.8,73.8,2.9];
const k8Violet=[98.4,98.4,98.4,98.4,98.4,98.4,98.4,97.8,96,82.1,96.7,95.7,96,97.7,96.4,94,94,94,64,75.5,62.5,20.2,5.2,5.2,7,4.2,32,15,79,79.8,80,64.1,31.4,19.6,23.6,15.3,16,8.5,15.7,16.1,19.3,12,79.4,22.9,53.3,53.9,38,47.6,48.4,45,45,10.4,85.7,95.2,87.2,91.9,89.2,92,92.4,92.4,91,92.4,85,36.5,48.1,65.4,67.9,90,95.5,94.5,56.3,56.3,85.9,90.8,
92.7,92.4,82.7,87.9,50.1,84.7,54.2,91.9,94.7,94.7,95,95,95,95.6,95,95,95,91.9,92.2,96.3,95,97.8,97.8,97.3,97.3,97.3,94.4,96.7,96,95.6,95.8,95.2,94.6,95,90.9,97,95,90.8,90.8,49,82.1,58.6,95.5,95.6,95.6,88,97.7,97.7,98,98,97.7,97,95.7,97.9,97.9,98.2,97,90.2,94.6,92.8,97.4,97.4,84.7,97.4,73.9,86.7,91.2,78.2,82.1,97.7,95.7,78.1,78.2,98.8];
const k8Blue=[99.4,99.4,99.4,99.4,99.4,99.4,99,99,98,91.2,98.1,98.1,98,98.6,98.1,98.1,98.4,97.8,94,97.6,87.8,36.7,6.2,6.2,8.1,5.2,43.4,17.6,97.8,98,98.6,98.7,54.6,33,93.7,98.6,94.2,98.6,98.1,86.6,95.8,96.1,86.3,42,60.8,61,48.7,73.3,87,55.3,55.3,15,90.8,97.8,90.9,95.4,97.6,96.4,96.1,96.1,95.8,97.4,96.7,97.4,97.4,97.8,97.8,94.5,98.1,97.4,97.1,97.1,95.7,95.7,
94.7,97.4,98,98,65.9,97.7,82.7,96.1,97.4,97.4,97.4,97.4,97.4,97.4,97.4,97.4,97.4,95.4,96,98,98,98.8,98.8,98.5,98.8,98.8,99.1,97.8,97.8,98.8,98.8,98.5,98,97.7,98,98.8,97.7,94,94,51.7,98,98.6,98.6,98.8,98.6,98.6,98.2,98.2,98.8,98.8,98.2,98,98,98.8,98.8,99,98,95.7,95.1,94.2,98,98,95.7,97.9,80.8,95.4,94.7,95.2,95.7,97.9,97.1,79.4,80.1,99.1];

const PINK='#ff99e6',YELLOW='#e6ff00',RED='#ff0050',BLUE='#0099e6',ORANGE='#ff994d',VIOLET='#7326e6',DARK='#800080',GREEN='#339933';
const panels=[
 {name:'k2',stack:[['pink',PINK,k2Pink],['yellow',YELLOW,null]]},
 {name:'k3',stack:[['yellow',YELLOW,k3Yellow],['red',RED,k3Red],['pink',PINK,null]]},
 {name:'k4',stack:[['blue',BLUE,k4Blue],['yellow',YELLOW,k4Yellow],['pink',PINK,k4Pink],['red',RED,null]]},
 {name:'k5',stack:[['yellow',YELLOW,k5Yellow],['blue',BLUE,k5Blue],['pink',PINK,k5Pink],['red',RED,k5Red],['orange',ORANGE,null]]},
 {name:'k6',stack:[['yellow',YELLOW,k6Yellow],['orange',ORANGE,k6Orange],['red',RED,k6Red],['blue',BLUE,k6Blue],['violet',VIOLET,k6Violet],['pink',PINK,null]]},
 {name:'k7',stack:[['pink',PINK,k7Pink],['orange-low',ORANGE,k7OrangeLow],['yellow',YELLOW,k7Yellow],['orange-high',ORANGE,k7OrangeHigh],['blue',BLUE,k7Blue],['red',RED,k7Red],['violet',VIOLET,null]]},
 {name:'k8',stack:[['orange',ORANGE,k8Orange],['red',RED,k8Red],['dark-purple',DARK,k8Dark],['pink',PINK,k8Pink],['yellow',YELLOW,k8Yellow],['violet',VIOLET,k8Violet],['blue',BLUE,k8Blue],['green',GREEN,null]]}
];

const NS='http://www.w3.org/2000/svg';
const BAR_COUNT=148;
const PLOT_H=301;
const xBar=i=>245.7+i*12.5;
const panelTop=p=>581+p*331.3;
const yValue=(p,v)=>panelTop(p)+PLOT_H*(1-v/100);

const framesG=document.getElementById('frames');
const barsG=document.getElementById('bars');

panels.forEach((panel,p)=>{
  const t=panelTop(p),b=t+PLOT_H;
  const frame=document.createElementNS(NS,'polygon');
  
  
  frame.setAttribute('points',[[243,t-12],[2099,t-12],[2109,t],[2109,b],[2099,b+13],[243,b+13],[233,b],[233,t]].map(c=>c.join(',')).join(' '));
  frame.setAttribute('fill','#000');
  framesG.appendChild(frame);

  const group=document.createElementNS(NS,'g');
  
  
  for(let i=0;i<BAR_COUNT;i++){
    let prev=0;
    panel.stack.forEach(([cluster,color,tops])=>{
      const top=tops?Math.max(prev,tops[i]):100;
      if(top>prev){
        const y0=Math.round(yValue(p,top));
        const y1=Math.round(yValue(p,prev));
        const x0=Math.round(xBar(i));
        const x1=Math.round(xBar(i+1));
        const r=document.createElementNS(NS,'rect');
        
        
        r.setAttribute('x',x0);
        r.setAttribute('y',y0);
        r.setAttribute('width',x1-x0);
        r.setAttribute('height',Math.max(y1-y0,0));
        r.setAttribute('fill',color);
        group.appendChild(r);
      }
      prev=top;
    });
  }
  barsG.appendChild(group);
});
</script>
</body>
</html>
